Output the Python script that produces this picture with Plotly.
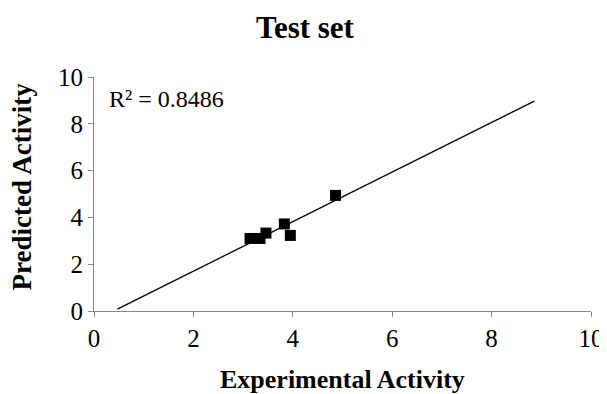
import numpy as np
import plotly.graph_objects as go

# Data
experimental = [3.14, 3.34, 3.46, 3.83, 3.95, 4.86]
predicted = [3.10, 3.10, 3.33, 3.72, 3.23, 4.94]
trend_x_range = [0.47, 8.86]  # extent of drawn trendline (forecast)
x_ticks = [0, 2, 4, 6, 8, 10]
y_ticks = [0, 2, 4, 6, 8, 10]
r2_label = "R² = 0.8486"

slope, intercept = np.polyfit(experimental, predicted, 1)
tx = np.array(trend_x_range)
ty = slope * tx + intercept

FONT = "Liberation Serif, Times New Roman, serif"
AX = "#898989"

# page body has an 8px default margin; size figure to reach the window edges
W, H = 599, 386

fig = go.Figure()
fig.add_trace(go.Scatter(x=tx, y=ty, mode="lines",
                         line=dict(color="black", width=1.3),
                         showlegend=False, hoverinfo="skip"))
fig.add_trace(go.Scatter(x=experimental, y=predicted, mode="markers",
                         marker=dict(symbol="square", size=11, color="black"),
                         showlegend=False))

axis_common = dict(range=[0, 10], showgrid=False, zeroline=False,
                   showline=True, linecolor=AX, linewidth=1,
                   ticks="outside", ticklen=5, tickcolor=AX, tickwidth=1,
                   automargin=False, ticklabeloverflow="allow",
                   tickfont=dict(family=FONT, size=25, color="black"))
fig.update_xaxes(tickvals=x_ticks, **axis_common)
fig.update_yaxes(tickvals=y_ticks, **axis_common)

fig.update_layout(
    width=W, height=H,
    margin=dict(l=86, r=16, t=69, b=83, autoexpand=False),
    paper_bgcolor="white", plot_bgcolor="white",
    title=dict(text="<b>Test set</b>", x=(305 - 8) / W, xanchor="center",
               y=1 - 19 / H, yanchor="middle", yref="container",
               font=dict(family=FONT, size=31, color="black")),
    annotations=[
        dict(text=r2_label, x=0.26, y=9.08, xref="x", yref="y",
             xanchor="left", yanchor="middle", showarrow=False,
             font=dict(family=FONT, size=24, color="black")),
        dict(text="<b>Experimental Activity</b>", x=0.499, y=-0.294,
             xref="paper", yref="paper", xanchor="center", yanchor="middle",
             showarrow=False, font=dict(family=FONT, size=26, color="black")),
        dict(text="<b>Predicted Activity</b>", x=-0.145, y=0.532,
             xref="paper", yref="paper", xanchor="center", yanchor="middle",
             textangle=-90, showarrow=False,
             font=dict(family=FONT, size=27, color="black")),
    ],
)

fig.write_html("out.html")
